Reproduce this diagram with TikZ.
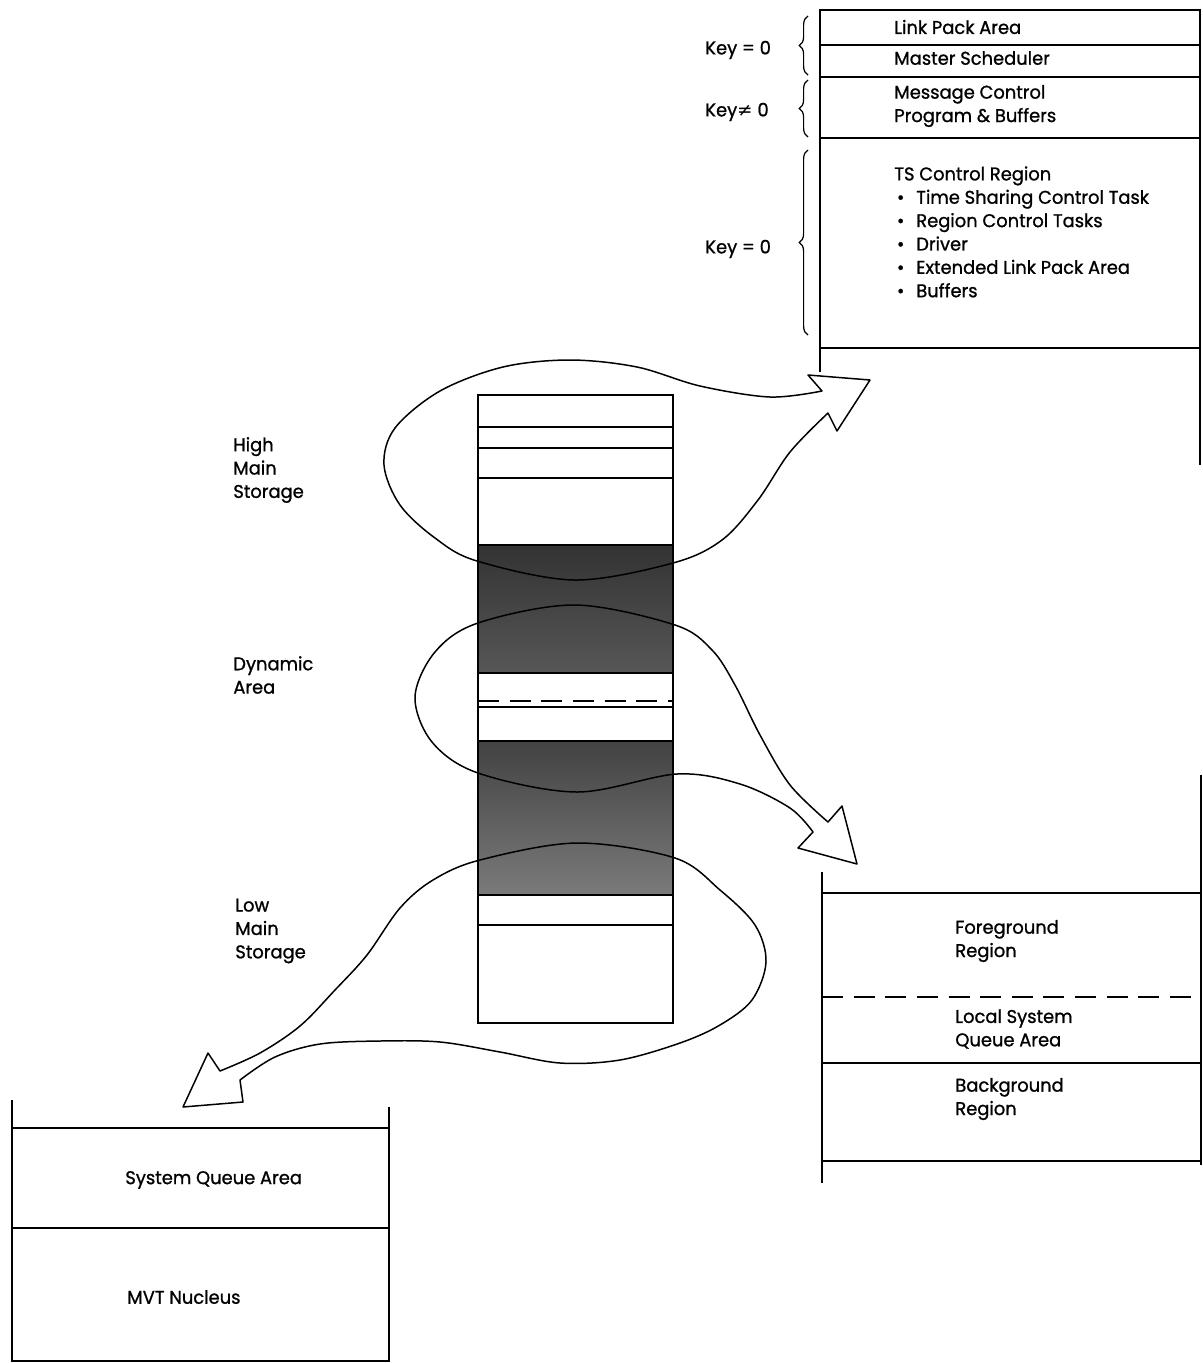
\documentclass[tikz,border=0pt]{standalone}
\usepackage{fontspec}
\setmainfont{Poppins}[FakeBold=1.0, FakeStretch=0.97]
\newfontfamily\symfont{DejaVu Sans}
\usetikzlibrary{positioning, decorations.pathreplacing}
\newcommand{\mapfont}{\fontsize{10.5}{13.3}\selectfont}
\newcommand{\tsitem}{\hspace*{1.5pt}\makebox[11pt][l]{•}}
\tikzset{
  % memory map boxes
  mapline/.style={line width=1.1pt},
  thinline/.style={line width=0.8pt},
  maptext/.style={anchor=west, inner sep=0pt, align=left, font=\mapfont},
  keybrace/.style={decorate, decoration={brace, amplitude=5pt}, line width=0.7pt},
  % storage loops with hollow arrows
  loopline/.style={line width=0.85pt, line join=round},
  darkfill/.style={top color=black!80, bottom color=black!66},
  lightfill/.style={top color=black!74, bottom color=black!52}
}

\begin{document}
\begin{tikzpicture}[x=0.02cm, y=-0.02cm]
  \useasboundingbox (0,0) rectangle (1203,1363);

  % Time sharing region map (top right)
  \draw[mapline] (820,372) -- (820,10) -- (1200,10) -- (1200,465);
  \draw[mapline] (820,45) -- (1200,45);
  \draw[mapline] (820,77) -- (1200,77);
  \draw[mapline] (820,138) -- (1200,138);
  \draw[mapline] (820,348) -- (1200,348);

  \node[maptext] (lpa) at (894,27) {Link Pack Area};
  \node[maptext] (msched) at (894,58) {Master Scheduler};
  \node[maptext] (mcp) at (894,106) {Message Control\\Program \& Buffers};
  \node[maptext, anchor=north west] (tsreg) at (894,166) {TS Control Region\\
    \tsitem Time Sharing Control Task\\
    \tsitem Region Control Tasks\\
    \tsitem Driver\\
    \tsitem Extended Link Pack Area\\
    \tsitem Buffers};

  \draw[keybrace] (808,75) -- (808,16);
  \draw[keybrace] (808,137) -- (808,80);
  \draw[keybrace] (808,335) -- (808,150);
  \node[maptext] (key1) at (705,50) {Key = 0};
  \node[maptext] (key2) at (705,112) {Key{\symfont ≠} 0};
  \node[maptext] (key3) at (705,249) {Key = 0};

  % Main storage column
  \fill[darkfill] (478,545) rectangle (673,673);
  \fill[lightfill] (478,741) rectangle (673,895);

  \draw[loopline] plot[smooth, tension=0.55] coordinates {(822,391) (770,397)
    (700,386) (637,367) (570,360) (503,367) (440,391) (395,428) (384,465)
    (400,505) (435,538) (477,561) (575,580) (673,563) (722,540) (758,500)
    (790,452) (828,413)}
    -- (837,431) -- (870,380) -- (808,375) -- cycle;

  \draw[loopline] plot[smooth, tension=0.55] coordinates {(828,822) (790,785)
    (760,735) (735,685) (712,650) (675,625) (575,605) (478,623) (435,652)
    (415,697) (432,742) (478,773) (577,792) (677,774) (740,784) (790,808)
    (813,832)}
    -- (798,848) -- (857,864) -- (842,806) -- cycle;

  \draw[loopline] plot[smooth, tension=0.55] coordinates {(220,1071) (260,1053)
    (300,1026) (335,990) (367,955) (400,908) (433,880) (480,860) (577,843)
    (675,858) (720,890) (755,925) (766,962) (752,1000) (720,1025) (680,1043)
    (620,1060) (560,1063) (500,1052) (440,1042) (380,1041) (320,1044)
    (275,1057) (240,1080)}
    -- (243,1102) -- (183,1107) -- (208,1053) -- cycle;

  \draw[mapline] (478,395) rectangle (673,1023);
  \draw[thinline] (478,427) -- (673,427);
  \draw[thinline] (478,448) -- (673,448);
  \draw[thinline] (478,478) -- (673,478);
  \draw[thinline] (478,545) -- (673,545);
  \draw[thinline] (478,673) -- (673,673);
  \draw[thinline, dashed, dash pattern=on 12pt off 6pt] (478,701) -- (673,701);
  \draw[thinline] (478,707) -- (673,707);
  \draw[thinline] (478,741) -- (673,741);
  \draw[mapline] (478,895) -- (673,895);
  \draw[thinline] (478,925) -- (673,925);

  \node[maptext] (high) at (233,470) {High\\Main\\Storage};
  \node[maptext] (dyn) at (233,675) {Dynamic\\Area};
  \node[maptext] (low) at (235,931) {Low\\Main\\Storage};

  % Foreground / background map (right)
  \draw[mapline] (822,872) -- (822,1183);
  \draw[mapline] (1201,775) -- (1201,1165);
  \draw[thinline] (822,893) -- (1201,893);
  \draw[thinline, dashed, dash pattern=on 12pt off 6pt] (822,997) -- (1201,997);
  \draw[thinline] (822,1063) -- (1201,1063);
  \draw[thinline] (822,1161) -- (1201,1161);

  \node[maptext] (fgreg) at (955,941) {Foreground\\Region};
  \node[maptext] (lsqa) at (955,1029) {Local System\\Queue Area};
  \node[maptext] (bgreg) at (955,1099) {Background\\Region};

  % Nucleus map (bottom left)
  \draw[mapline] (12,1100) -- (12,1361) -- (389,1361) -- (389,1107);
  \draw[thinline] (12,1128) -- (389,1128);
  \draw[thinline] (12,1228) -- (389,1228);

  \node[maptext] (sqa) at (125,1180) {System Queue Area};
  \node[maptext] (nuc) at (127,1297) {MVT Nucleus};

\end{tikzpicture}
\end{document}
